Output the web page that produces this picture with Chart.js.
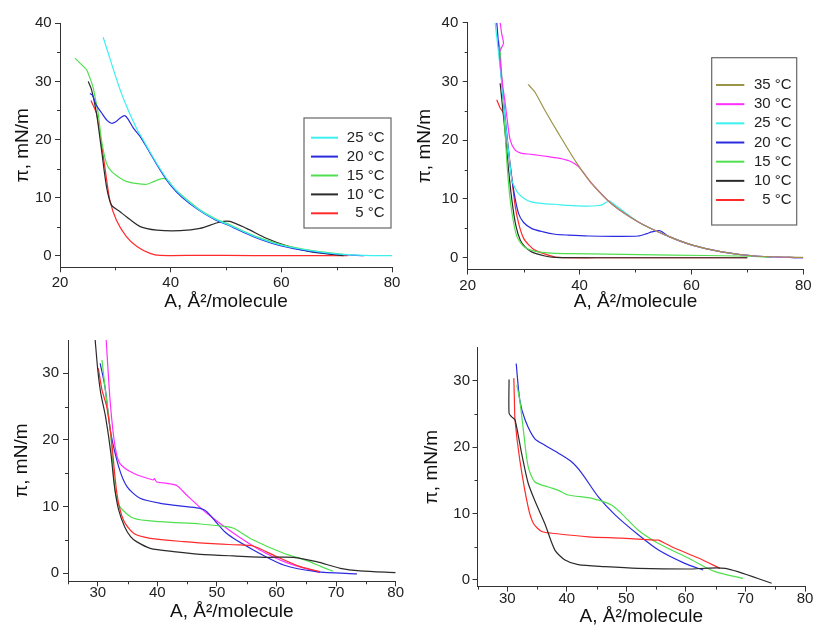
<!DOCTYPE html>
<html>
<head>
<meta charset="utf-8">
<script src="https://cdn.jsdelivr.net/npm/chart.js@4/dist/chart.umd.min.js"></script>
<style>
  body { margin: 0; background: #fff; }
  canvas { position: absolute; }
</style>
</head>
<body>
<canvas id="c1" width="406" height="314" style="left:0px;top:0px"></canvas>
<canvas id="c2" width="407" height="314" style="left:406px;top:0px"></canvas>
<canvas id="c3" width="406" height="314" style="left:0px;top:314px"></canvas>
<canvas id="c4" width="407" height="314" style="left:406px;top:314px"></canvas>
<script>
// axis titles + ticks
const X_TITLE = 'A, Å²/molecule';
const Y_TITLE = 'π, mN/m';
const X_MAJOR_TOP = [20, 40, 60, 80];
const X_MINOR_TOP = [30, 50, 70];
const Y_MAJOR_TOP = [0, 10, 20, 30, 40];
const Y_MINOR_TOP = [5, 15, 25, 35];
const X_MAJOR_BOT = [30, 40, 50, 60, 70, 80];
const X_MINOR_BOT = [25, 35, 45, 55, 65, 75];
const Y_MAJOR_BOT = [0, 10, 20, 30];
const Y_MINOR_BOT = [5, 15, 25];

const LABELS_P1 = ['25 °C', '20 °C', '15 °C', '10 °C', ' 5 °C'];
const LABELS_P2 = ['35 °C', '30 °C', '25 °C', '20 °C', '15 °C', '10 °C', ' 5 °C'];

// panel 1 (top left): [A, pi]
const P1_25 = [[27.8,37.6],[29,34.0],[30,31.0],[31,28.2],[32,25.8],[33,23.6],[34,21.6],[35,20.0],[36,18.3],[38,15.1],[40,12.3],[42,10.3],[45,8.0],[48,6.3],[50,5.5],[53,4.2],[56,3.0],[60,1.8],[65,0.9],[70,0.3],[75,0.05],[80,0]];
const P1_20 = [[25.4,27.9],[25.9,27.6],[26.5,26.0],[27.5,24.6],[28.5,23.3],[29.3,22.8],[30,23.0],[31,23.8],[31.7,24.1],[32.3,23.5],[33.3,21.9],[34.5,20.5],[36,18.1],[38,14.9],[40,12.1],[42,10.1],[45,7.9],[48,6.2],[50,5.4],[53,4.1],[56,2.9],[60,1.7],[65,0.8],[70,0.25],[75,0]];
const P1_15 = [[22.7,34.0],[24.0,32.8],[24.8,32.0],[25.4,30.6],[26.0,28.9],[26.5,26.5],[26.9,24.5],[27.5,19.9],[28.4,15.9],[29.3,14.5],[30.5,13.6],[32,12.8],[34,12.4],[35.7,12.3],[37,12.8],[38.7,13.3],[39.7,12.8],[40.5,11.7],[42,10.4],[45,8.1],[48,6.4],[50,5.6],[53,4.3],[56,3.1],[60,1.9],[65,0.95],[70,0.35],[72,0.15]];
const P1_10 = [[25.1,30.0],[25.7,28.6],[26.6,24.5],[27.5,18.2],[28.4,11.9],[29.3,8.7],[30.8,7.6],[32,6.7],[34.5,5.0],[37.5,4.4],[41.7,4.3],[45.3,4.7],[48.9,5.8],[50.7,5.9],[53.7,4.7],[57.3,3.0],[61,1.7],[65.2,0.7],[69.4,0.2],[71.2,0]];
const P1_5 = [[25.6,26.7],[26.6,24.5],[27.2,21.1],[28.1,15.3],[29,9.6],[30.2,6.1],[32,3.3],[33.9,1.6],[36.3,0.4],[38.1,0.05],[45,0.05],[55,0.02],[65,0],[72,0]];

// panel 2 (top right)
const P2_35 = [[30.8,29.5],[32,28.2],[33.8,25.1],[36.2,21.2],[39.5,16.1],[42.2,12.6],[45.7,9.2],[50.5,6.1],[55.3,3.9],[60,2.2],[65.4,1.0],[71.4,0.3],[80,0.05]];
const P2_30 = [[25.8,40],[26.1,38],[26.4,36.5],[25.7,35],[25.9,32.5],[26.3,29],[26.6,27],[27,24],[27.6,20],[28.5,18.3],[29.5,17.8],[31.4,17.6],[34.4,17.2],[36.5,16.9],[38.6,16.3],[39.8,15.5],[41,14.1],[42.2,12.6],[45.7,9.2],[50.5,6.1],[55.3,3.9],[60,2.2],[65.4,1.0],[71.4,0.3],[80,0]];
const P2_25 = [[24.9,40],[25.5,35],[26.1,29.7],[26.6,24.5],[27,20.6],[27.5,16.5],[27.9,13.2],[28.5,11.8],[29.1,10.9],[30.2,10.0],[31.4,9.5],[33.5,9.2],[35.6,9.1],[38,8.9],[41,8.8],[43,8.85],[44,9.0],[45.3,9.7],[45.9,9.3],[50.5,6.1],[55.3,3.9],[60,2.2],[65.4,1.0],[71.4,0.3],[80,0]];
const P2_20 = [[25.2,40],[25.8,33],[26.4,26.8],[27,21],[27.6,15.5],[28.3,11],[29.1,7.5],[30,6.0],[31.4,5.0],[33.5,4.4],[35.6,4.0],[38,3.85],[41.6,3.7],[46,3.65],[50.5,3.7],[52,4.1],[52.9,4.4],[54.4,4.6],[56,3.6],[60,2.2],[65.4,1.0],[71.4,0.3],[80,0]];
const P2_15 = [[25.5,37],[25.8,35.3],[26.2,29],[26.7,21.2],[27.1,15],[27.6,9.8],[28.2,6],[28.8,3.6],[29.5,2.5],[30.2,1.8],[31.3,1.3],[32.6,1.0],[35,0.8],[38.6,0.7],[45,0.6],[56.5,0.45],[68.4,0.3],[74.4,0.1]];
const P2_10 = [[25.8,29.7],[26.3,25],[26.7,21.2],[27.3,15],[27.9,9.8],[28.6,5.5],[29.4,3.0],[30.3,1.8],[31.4,1.0],[33.8,0.3],[35.6,0.05],[45,0],[60,0],[70,0]];
const P2_5 = [[25.2,26.9],[25.8,25.5],[26.4,24.6],[26.9,21],[27.3,18.3],[27.9,13.5],[28.5,8.7],[29.2,5.5],[30,3.3],[31,2.1],[32,1.3],[34.4,0.45],[36.2,0.05],[45,0],[60,0],[70,0]];

// panel 3 (bottom left)
const P3_BLACK = [[29.55,35.1],[30.0,30.5],[30.5,27],[31.3,23.5],[32.2,18],[32.8,13],[33.5,9.5],[34.5,7],[35.5,5.5],[36.5,4.75],[38.8,3.75],[42.7,3.25],[47.2,2.85],[52.8,2.6],[58.4,2.4],[62.8,2.4],[66.7,1.75],[70.7,0.75],[74,0.35],[80,0.1]];
const P3_RED = [[30.1,30.75],[30.7,27.5],[31.5,25],[32.3,20],[33.2,12],[34.3,8],[36,6],[38.8,5.25],[44.4,4.75],[50,4.4],[53.9,4.25],[56.1,4.1],[60,2.5],[64,1.0],[67.3,0.25]];
const P3_GREEN = [[30.7,32],[31.2,28],[32.1,21.5],[32.9,12.5],[33.7,10],[36,8.25],[40.5,7.75],[47.2,7.4],[51.6,7.0],[52.8,6.75],[56.1,5],[61.2,3],[65.1,1.9],[67.5,1.0],[69.5,0.3]];
const P3_BLUE = [[30.4,31.5],[31.2,28],[32.1,21.5],[33.5,16],[34.9,13],[37.1,11.25],[40.5,10.5],[44.9,10],[47.2,9.75],[48.3,9.25],[51.6,6],[56.1,3.5],[61.2,1.25],[66.7,0.25],[73.5,-0.1]];
const P3_MAGENTA = [[31.4,35.1],[32.1,25.5],[32.9,19],[33.7,16.5],[36,15],[39.3,14],[39.5,14.2],[39.9,13.7],[41.6,13.5],[43.3,13.15],[44.9,11.75],[48.3,9],[52.8,6],[57.2,3.5],[61.7,1.6],[67.3,0.1]];

// panel 4 (bottom right)
const P4_BLUE = [[31.5,32.6],[32.1,27.1],[33,24.1],[34.6,21.3],[36.3,20.3],[38.6,19.1],[40.8,17.8],[42.5,16.1],[45.3,12.5],[48.1,9.8],[52,6.8],[55.4,4.5],[59.8,2.5],[62.9,1.5]];
const P4_GREEN = [[31.6,29.4],[32.1,27.1],[32.7,22.6],[33.5,17.1],[34.6,14.8],[36.9,14],[38.6,13.5],[40.2,12.8],[44.2,12.3],[47.5,11.3],[49.2,10],[52,7.5],[55.4,5.5],[60.4,3.3],[64.9,1.25],[69.6,0.25]];
const P4_RED = [[31.1,30.4],[31.2,27],[31.3,24.1],[32.1,18.1],[33.5,11],[34.4,8.5],[35.8,7.3],[38,7.0],[43.6,6.5],[49.2,6.3],[54.8,6.0],[55.4,6.0],[57.6,5],[62.1,3.3],[65.7,1.75]];
const P4_BLACK = [[30.3,30.2],[30.3,25.1],[30.7,24.6],[31.3,24.1],[32.4,19.1],[33.5,14.6],[34.6,12.0],[36.3,8.5],[38,4.5],[39.7,3.0],[41.9,2.3],[46.4,2.0],[52,1.75],[60.4,1.65],[66.6,1.75],[74.4,-0.5]];

const COL = {
  cyan: '#3cf0f0', blue: '#2a2ae0', green: '#4fe04f', black: '#2b2b2b',
  red: '#ff2a2a', magenta: '#ff30ff', olive: '#9c9448'
};
const FONT = '"Liberation Sans", Arial, sans-serif';

function ds(label, pts, color) {
  return {
    label, data: pts.map(p => ({ x: p[0], y: p[1] })),
    borderColor: color, borderWidth: 1.2, pointRadius: 0, tension: 0.25, fill: false
  };
}

// draws the short minor ticks
const minorTicks = {
  id: 'minorTicks',
  afterDraw(chart, args, opts) {
    const { ctx, chartArea } = chart;
    ctx.save();
    ctx.strokeStyle = '#333';
    ctx.lineWidth = 1;
    opts.x.forEach(v => {
      const px = Math.round(chart.scales.x.getPixelForValue(v)) + 0.5;
      ctx.beginPath(); ctx.moveTo(px, chartArea.bottom); ctx.lineTo(px, chartArea.bottom + 3); ctx.stroke();
    });
    opts.y.forEach(v => {
      const py = Math.round(chart.scales.y.getPixelForValue(v)) + 0.5;
      ctx.beginPath(); ctx.moveTo(chartArea.left, py); ctx.lineTo(chartArea.left - 3, py); ctx.stroke();
    });
    ctx.restore();
  }
};

// boxed legend like the original plots
const boxLegend = {
  id: 'boxLegend',
  afterDraw(chart, args, o) {
    if (!o || !o.box) return;
    const ctx = chart.ctx;
    const [l, t, r, b] = o.box;
    ctx.save();
    ctx.strokeStyle = '#666';
    ctx.lineWidth = 1.2;
    ctx.strokeRect(l, t, r - l, b - t);
    ctx.font = '15px ' + FONT;
    ctx.textAlign = 'right';
    ctx.textBaseline = 'middle';
    o.order.forEach((idx, i) => {
      const d = chart.data.datasets[idx];
      const y = o.y0 + i * o.dy;
      ctx.strokeStyle = d.borderColor;
      ctx.lineWidth = 2;
      ctx.beginPath(); ctx.moveTo(o.sx[0], y); ctx.lineTo(o.sx[1], y); ctx.stroke();
      ctx.fillStyle = '#222';
      ctx.fillText(d.label, o.tx, y);
    });
    ctx.restore();
  }
};

function makeChart(p, datasets) {
  const [bx, by, bw, bh] = p.box;
  const YW = p.area.l - bx;
  const XH = by + bh - p.area.b;
  new Chart(document.getElementById(p.id), {
    type: 'line',
    data: { datasets },
    options: {
      responsive: false, animation: false, devicePixelRatio: 1,
      layout: { padding: { left: 0, top: p.area.t - by, right: bx + bw - p.area.r, bottom: 0 } },
      plugins: {
        legend: { display: false }, tooltip: { enabled: false },
        minorTicks: { x: p.xMinor, y: p.yMinor },
        boxLegend: p.legend || {}
      },
      scales: {
        x: {
          type: 'linear', min: p.x[0], max: p.x[1],
          afterBuildTicks: s => { s.ticks = p.xMajor.map(v => ({ value: v })); },
          afterFit: s => { s.height = XH; s.paddingLeft = 0; s.paddingRight = 0; },
          ticks: { font: { family: FONT, size: 15 }, color: '#222', padding: p.xPad, maxRotation: 0, autoSkip: false },
          grid: { display: true, drawOnChartArea: false, drawTicks: true, tickLength: 5, color: '#333' },
          border: { display: true, color: '#333', width: 1 },
          title: { display: true, text: X_TITLE, color: '#111', font: { family: FONT, size: 19, lineHeight: 1 }, padding: { top: 0, bottom: p.xTitlePad } }
        },
        y: {
          type: 'linear', min: p.y[0], max: p.y[1],
          afterBuildTicks: s => { s.ticks = p.yMajor.map(v => ({ value: v })); },
          afterFit: s => { s.width = YW; s.paddingTop = 0; s.paddingBottom = 0; },
          ticks: { font: { family: FONT, size: 15 }, color: '#222', padding: p.yPad, autoSkip: false },
          grid: { display: true, drawOnChartArea: false, drawTicks: true, tickLength: 5, color: '#333' },
          border: { display: true, color: '#333', width: 1 },
          title: { display: true, text: Y_TITLE, color: '#111', font: { family: FONT, size: 19, lineHeight: 1 }, padding: { top: p.yTitlePad, bottom: 0 } }
        }
      }
    },
    plugins: [minorTicks, boxLegend]
  });
}

makeChart({
  id: 'c1', box: [0, 0, 406, 314], area: { l: 60, r: 392, t: 23.3, b: 267.3 },
  x: [20, 80], y: [-2, 40], xMajor: X_MAJOR_TOP, xMinor: X_MINOR_TOP, yMajor: Y_MAJOR_TOP, yMinor: Y_MINOR_TOP,
  xPad: 1.5, yPad: 3.3, xTitlePad: 2.5, yTitlePad: 13.2,
  legend: { box: [304, 118, 391, 228], sx: [311, 338], tx: 384.5, y0: 137.7, dy: 18.9, order: [0, 1, 2, 3, 4] }
}, [
  ds(LABELS_P1[0], P1_25, COL.cyan),
  ds(LABELS_P1[1], P1_20, COL.blue),
  ds(LABELS_P1[2], P1_15, COL.green),
  ds(LABELS_P1[3], P1_10, COL.black),
  ds(LABELS_P1[4], P1_5, COL.red)
]);

makeChart({
  id: 'c2', box: [406, 0, 407, 314], area: { l: 467.7, r: 803.3, t: 22.7, b: 269.5 },
  x: [20, 80], y: [-2, 40], xMajor: X_MAJOR_TOP, xMinor: X_MINOR_TOP, yMajor: Y_MAJOR_TOP, yMinor: Y_MINOR_TOP,
  xPad: 2.5, yPad: 4.4, xTitlePad: 2.5, yTitlePad: 9.5,
  legend: { box: [305.7, 57.7, 390.7, 225], sx: [310, 338.3], tx: 385.7, y0: 85, dy: 19.17, order: [0, 1, 2, 3, 4, 5, 6] }
}, [
  ds(LABELS_P2[0], P2_35, COL.olive),
  ds(LABELS_P2[1], P2_30, COL.magenta),
  ds(LABELS_P2[2], P2_25, COL.cyan),
  ds(LABELS_P2[3], P2_20, COL.blue),
  ds(LABELS_P2[4], P2_15, COL.green),
  ds(LABELS_P2[5], P2_10, COL.black),
  ds(LABELS_P2[6], P2_5, COL.red)
]);

makeChart({
  id: 'c3', box: [0, 314, 406, 314], area: { l: 68, r: 395.7, t: 340, b: 581.3 },
  x: [25, 80], y: [-1.2, 35], xMajor: X_MAJOR_BOT, xMinor: X_MINOR_BOT, yMajor: Y_MAJOR_BOT, yMinor: Y_MINOR_BOT,
  xPad: -2, yPad: 4, xTitlePad: 6.8, yTitlePad: 12.2
}, [
  ds('black', P3_BLACK, COL.black),
  ds('red', P3_RED, COL.red),
  ds('green', P3_GREEN, COL.green),
  ds('blue', P3_BLUE, COL.blue),
  ds('magenta', P3_MAGENTA, COL.magenta)
]);

makeChart({
  id: 'c4', box: [406, 314, 407, 314], area: { l: 477.5, r: 805, t: 347.6, b: 586.6 },
  x: [25, 80], y: [-1, 35], xMajor: X_MAJOR_BOT, xMinor: X_MINOR_BOT, yMajor: Y_MAJOR_BOT, yMinor: Y_MINOR_BOT,
  xPad: -2, yPad: 2.5, xTitlePad: 1.8, yTitlePad: 16.2
}, [
  ds('black', P4_BLACK, COL.black),
  ds('red', P4_RED, COL.red),
  ds('green', P4_GREEN, COL.green),
  ds('blue', P4_BLUE, COL.blue)
]);
</script>
</body>
</html>
